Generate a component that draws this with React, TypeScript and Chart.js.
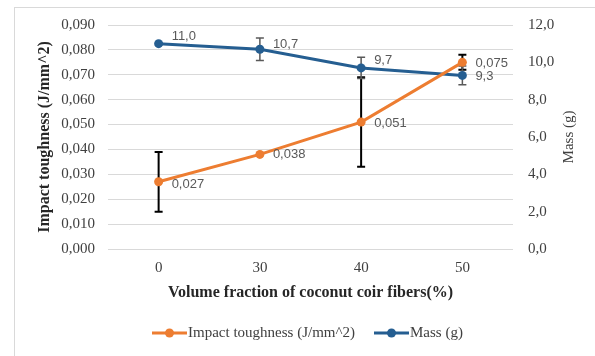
import React, { useEffect, useRef } from 'react';
import { Chart, registerables } from 'chart.js';

Chart.register(...registerables);

// ---- data ----
const categories = ['0', '30', '40', '50'];
const impactLabel = 'Impact toughness (J/mm^2)';
const impactValues = [0.027, 0.038, 0.051, 0.075];
const impactErrors = [0.012, 0, 0.018, 0.003];
const massLabel = 'Mass (g)';
const massValues = [11.0, 10.7, 9.7, 9.3];
const massErrors = [0, 0.6, 0.57, 0.5];
const leftAxisRange = [0, 0.09];
const leftAxisStep = 0.01;
const rightAxisRange = [0, 12];
const rightAxisStep = 2;
const xTitle = 'Volume fraction of coconut coir fibers(%)';

// ---- styles ----
const ORANGE = '#ED7D31';
const BLUE = '#255E91';
const SERIF = "'Liberation Serif', 'Times New Roman', serif";
const SANS = "'Liberation Sans', Arial, sans-serif";
const GRID = '#d9d9d9';
const TICK = '#404040';

const overlay = {
  id: 'overlay',
  beforeDraw(chart: any) {
    const ctx = chart.ctx;
    ctx.save();
    ctx.strokeStyle = GRID;
    ctx.lineWidth = 1;
    ctx.strokeRect(14.5, 7.5, 700, 500);
    ctx.restore();
  },
  beforeDatasetsDraw(chart: any) {
    const ctx = chart.ctx;
    chart.data.datasets.forEach((ds: any, i: number) => {
      const meta = chart.getDatasetMeta(i);
      const scale = chart.scales[ds.yAxisID];
      ctx.save();
      ctx.strokeStyle = ds.errorColor;
      ctx.lineWidth = ds.errorWidth;
      (ds.errors || []).forEach((err: number, j: number) => {
        if (!err) return;
        const v = ds.data[j];
        const x = meta.data[j].x;
        const y1 = scale.getPixelForValue(v + err);
        const y2 = scale.getPixelForValue(v - err);
        ctx.beginPath();
        ctx.moveTo(x, y1);
        ctx.lineTo(x, y2);
        ctx.moveTo(x - 4, y1);
        ctx.lineTo(x + 4, y1);
        ctx.moveTo(x - 4, y2);
        ctx.lineTo(x + 4, y2);
        ctx.stroke();
      });
      ctx.restore();
    });
  },
  afterDatasetsDraw(chart: any) {
    const ctx = chart.ctx;
    ctx.save();
    ctx.font = `13px ${SANS}`;
    ctx.fillStyle = '#595959';
    ctx.textAlign = 'left';
    ctx.textBaseline = 'middle';
    chart.data.datasets.forEach((ds: any, i: number) => {
      const meta = chart.getDatasetMeta(i);
      ds.data.forEach((v: number, j: number) => {
        const pt = meta.data[j];
        const txt = v.toFixed(ds.labelDigits).replace('.', ',');
        ctx.fillText(txt, pt.x + 13, pt.y + (ds.labelShift ? ds.labelShift[j] : 0));
      });
    });
    ctx.restore();
  },
  afterDraw(chart: any) {
    const ctx = chart.ctx;
    const a = chart.chartArea;
    const cy = (a.top + a.bottom) / 2;
    ctx.save();
    ctx.fillStyle = '#262626';
    ctx.textAlign = 'center';
    ctx.textBaseline = 'middle';
    // left title
    ctx.save();
    ctx.translate(45, cy);
    ctx.rotate(-Math.PI / 2);
    ctx.font = `bold 16px ${SERIF}`;
    ctx.fillText(impactLabel, 0, 0);
    ctx.restore();
    // right title
    ctx.save();
    ctx.translate(569, cy);
    ctx.rotate(-Math.PI / 2);
    ctx.font = `15px ${SERIF}`;
    ctx.fillStyle = '#404040';
    ctx.fillText(massLabel, 0, 0);
    ctx.restore();
    // x title
    ctx.font = `bold 16px ${SERIF}`;
    ctx.fillText(xTitle, (a.left + a.right) / 2, 293);
    // legend
    const items = [
      { x: 152, ds: chart.data.datasets[0] },
      { x: 374, ds: chart.data.datasets[1] },
    ];
    const ly = 333;
    items.forEach(({ x, ds }) => {
      ctx.strokeStyle = ds.borderColor;
      ctx.lineWidth = 3;
      ctx.beginPath();
      ctx.moveTo(x, ly);
      ctx.lineTo(x + 35, ly);
      ctx.stroke();
      ctx.fillStyle = ds.borderColor;
      ctx.beginPath();
      ctx.arc(x + 17.5, ly, 4.5, 0, Math.PI * 2);
      ctx.fill();
      ctx.fillStyle = TICK;
      ctx.font = `15px ${SERIF}`;
      ctx.textAlign = 'left';
      ctx.fillText(ds.label, x + 36, ly);
    });
    ctx.restore();
  },
};

export default function App() {
  const ref = useRef<HTMLCanvasElement | null>(null);
  useEffect(() => {
    if (!ref.current) return;
    const chart = new Chart(ref.current, {
      type: 'line',
      data: {
        labels: categories,
        datasets: [
          {
            label: impactLabel,
            data: impactValues,
            yAxisID: 'y',
            borderColor: ORANGE,
            backgroundColor: ORANGE,
            borderWidth: 3,
            pointRadius: 4.5,
            pointBorderWidth: 0,
            pointBackgroundColor: ORANGE,
            errors: impactErrors,
            errorColor: '#000000',
            errorWidth: 2,
            labelDigits: 3,
            labelShift: [3, 0, 1, 1],
          } as any,
          {
            label: massLabel,
            data: massValues,
            yAxisID: 'y1',
            borderColor: BLUE,
            backgroundColor: BLUE,
            borderWidth: 3,
            pointRadius: 4.5,
            pointBorderWidth: 0,
            pointBackgroundColor: BLUE,
            errors: massErrors,
            errorColor: '#595959',
            errorWidth: 1.5,
            labelDigits: 1,
            labelShift: [-7, -5, -8, 1],
          } as any,
        ],
      },
      options: {
        responsive: false,
        animation: false,
        devicePixelRatio: 1,
        layout: { padding: { top: 25, left: 0, right: 0, bottom: 0 } },
        plugins: { legend: { display: false }, tooltip: { enabled: false } },
        scales: {
          x: {
            type: 'category',
            offset: true,
            grid: { display: false, drawTicks: false },
            border: { display: false },
            ticks: { font: { family: SERIF, size: 15 }, color: TICK, padding: 10 },
            afterFit: (s: any) => { s.height = 107; },
          },
          y: {
            position: 'left',
            min: leftAxisRange[0],
            max: leftAxisRange[1],
            grid: { color: GRID, drawTicks: false },
            border: { display: false },
            ticks: {
              stepSize: leftAxisStep,
              padding: 13,
              color: TICK,
              font: { family: SERIF, size: 15 },
              callback: (v: any) => Number(v).toFixed(3).replace('.', ','),
            },
            afterFit: (s: any) => { s.width = 108; },
          },
          y1: {
            position: 'right',
            min: rightAxisRange[0],
            max: rightAxisRange[1],
            grid: { drawOnChartArea: false, drawTicks: false },
            border: { display: false },
            ticks: {
              stepSize: rightAxisStep,
              padding: 15,
              color: TICK,
              font: { family: SERIF, size: 15 },
              callback: (v: any) => Number(v).toFixed(1).replace('.', ','),
            },
            afterFit: (s: any) => { s.width = 82; },
          },
        },
      } as any,
      plugins: [overlay],
    });
    return () => chart.destroy();
  }, []);
  return (
    <div style={{ position: 'absolute', left: 0, top: 0, width: 595, height: 356, background: '#fff' }}>
      <canvas ref={ref} width={595} height={356} />
    </div>
  );
}
